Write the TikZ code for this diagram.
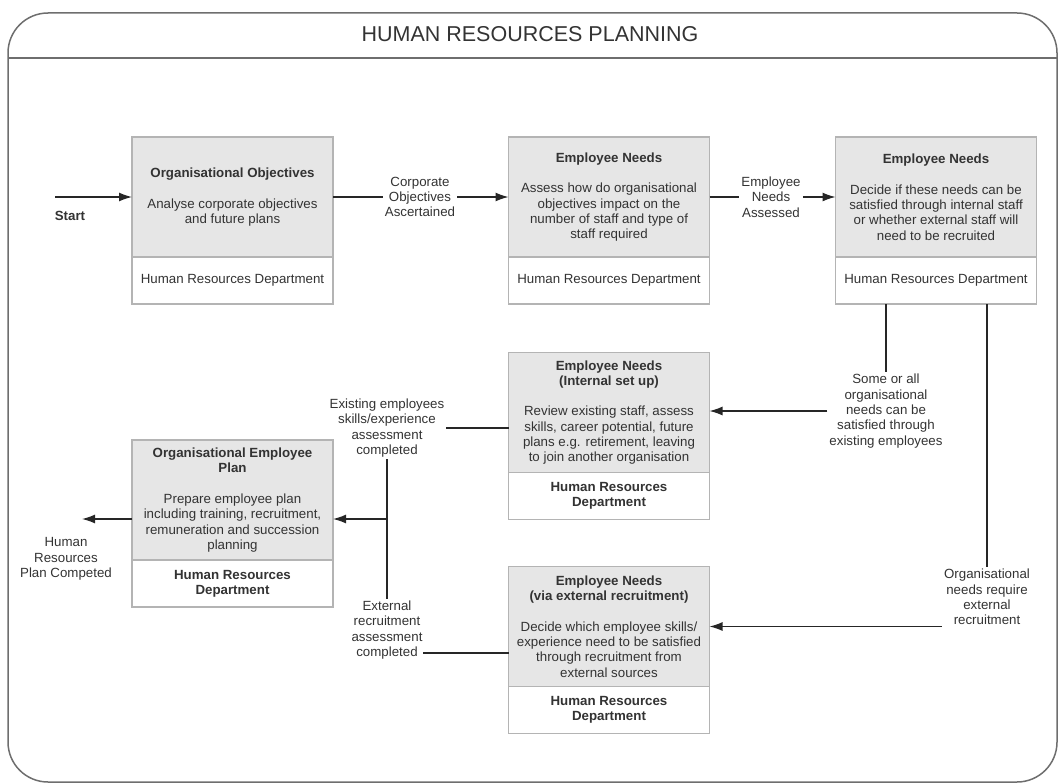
\documentclass[tikz,border=0pt]{standalone}
\usepackage{fontspec}
\setmainfont{Liberation Sans}
\usetikzlibrary{positioning,arrows.meta}
\definecolor{boxgrey}{HTML}{E6E6E6}
\definecolor{edgegrey}{HTML}{B4B4B4}
\definecolor{inkgrey}{HTML}{333333}
\definecolor{framegrey}{HTML}{6E6E6E}

\begin{document}
\begin{tikzpicture}[x=1pt, y=-1pt,
    task/.style={draw=edgegrey, fill=boxgrey, line width=1.3pt, minimum width=201pt, minimum height=120pt, outer sep=0pt, align=center, text=inkgrey, font=\fontsize{13.3}{15.3}\selectfont},
    dept/.style={task, fill=white, minimum height=47pt},
    deptbf/.style={dept, font=\fontsize{13.3}{15.3}\selectfont\bfseries},
    lbl/.style={align=center, text=inkgrey, inner sep=2pt, font=\fontsize{13.3}{15.3}\selectfont},
    wire/.style={draw=black!85, line width=1.3pt},
    flow/.style={wire, -{Latex[length=13pt,width=9pt]}}]
    \useasboundingbox (0,0) rectangle (1060,784);

    \draw[draw=framegrey, line width=1.5pt, rounded corners=40pt] (8,13) rectangle (1057,782);
    \draw[framegrey, line width=2pt] (8,58) -- (1057,58);
    \node[font=\fontsize{21.5}{24}\selectfont, text=black!80] (title) at (530,34) {HUMAN RESOURCES PLANNING};

    %%%%%%%%%%%%%%%%%%%%%%%%%%%%%%%%%%%%%%%%%%%%%%%%%%%%%%

    \node[task] (obj) at (232.5,197) {\textbf{Organisational Objectives}\\[15.3pt]Analyse corporate objectives\\and future plans};
    \node[dept, below=0pt of obj] (objdept) {Human Resources Department};

    \node[task] (assess) at (609,197) {\textbf{Employee Needs}\\[15.3pt]Assess how do organisational\\objectives impact on the\\number of staff and type of\\staff required};
    \node[dept, below=0pt of assess] (assessdept) {Human Resources Department};

    \node[task] (decide) at (936,197) {\textbf{Employee Needs}\\[15.3pt]Decide if these needs can be\\satisfied through internal staff\\or whether external staff will\\need to be recruited};
    \node[dept, below=0pt of decide] (decidedept) {Human Resources Department};

    \node[task] (internal) at (609,412.5) {\textbf{Employee Needs}\\\textbf{(Internal set up)}\\[15.3pt]Review existing staff, assess\\skills, career potential, future\\plans e.g. retirement, leaving\\to join another organisation};
    \node[deptbf, below=0pt of internal] (internaldept) {Human Resources\\Department};

    \node[task] (plan) at (232.5,500) {\textbf{Organisational Employee}\\\textbf{Plan}\\[15.3pt]Prepare employee plan\\including training, recruitment,\\remuneration and succession\\planning};
    \node[deptbf, below=0pt of plan] (plandept) {Human Resources\\Department};

    \node[task] (external) at (609,626.5) {\textbf{Employee Needs}\\\textbf{(via external recruitment)}\\[15.3pt]Decide which employee skills/\\experience need to be satisfied\\through recruitment from\\external sources};
    \node[deptbf, below=0pt of external] (externaldept) {Human Resources\\Department};

    %%%%%%%%%%%%%%%%%%%%%%%%%%%%%%%%%%%%%%%%%%%%%%%%%%%%%%

    \node[lbl] (startlbl) at (70,216) {\textbf{Start}};
    \coordinate (begin) at (55,197);
    \draw[flow] (begin) -- (obj);

    \node[lbl] (corp) at (420,197) {Corporate\\Objectives\\Ascertained};
    \draw[wire] (obj) -- (corp);
    \draw[flow] (corp) -- (assess);

    \node[lbl] (assessed) at (771,197) {Employee\\Needs\\Assessed};
    \draw[wire] (assess) -- (assessed);
    \draw[flow] (assessed) -- (decide);

    \node[lbl] (someall) at (886,411) {Some or all\\organisational\\needs can be\\satisfied through\\existing employees};
    \draw[wire] (decidedept.south -| someall) -- (someall);
    \draw[flow] (someall.west) -- (someall.west -| internal.east);

    \node[lbl] (extreq) at (987,597) {Organisational\\needs require\\external\\recruitment};
    \draw[wire] (decidedept.south -| extreq) -- (extreq);
    \draw[flow] (extreq.west |- external) -- (external);

    %%%%%%%%%%%%%%%%%%%%%%%%%%%%%%%%%%%%%%%%%%%%%%%%%%%%%%

    \node[lbl] (existing) at (387,428) {Existing employees\\skills/experience\\assessment\\completed};
    \draw[wire] (internal.west |- existing.east) -- (existing.east);

    \node[lbl] (extdone) at (387,630) {External\\recruitment\\assessment\\completed};
    \coordinate (extjoin) at (423,653);
    \draw[wire] (extjoin) -- (extjoin -| external.west);

    \draw[wire] (existing) -- (extdone);
    \coordinate (merge) at (387,519);
    \draw[flow] (merge) -- (merge -| plan.east);

    \node[lbl] (planlbl) at (66,559) {Human\\Resources\\Plan Competed};
    \coordinate (finish) at (82,519);
    \draw[flow] (merge -| plan.west) -- (finish);
\end{tikzpicture}
\end{document}
